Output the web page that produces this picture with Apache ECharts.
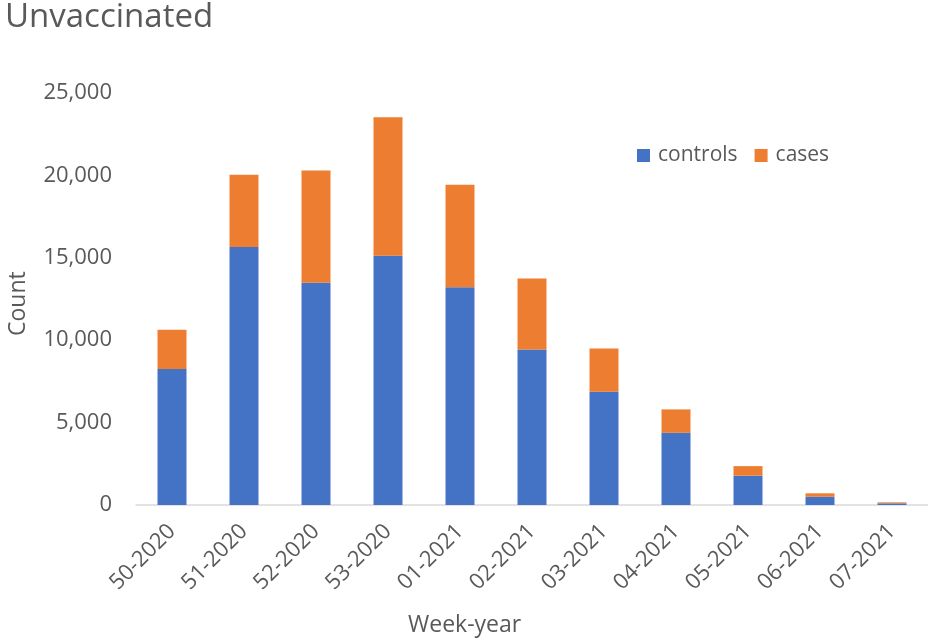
<!DOCTYPE html>
<html>
<head>
<meta charset="utf-8">
<script src="https://cdn.jsdelivr.net/npm/echarts@6/dist/echarts.min.js"></script>
<style>
html,body{margin:0;padding:0;background:#fff;}
#chart{width:928px;height:643px;}
</style>
</head>
<body>
<div id="chart"></div>
<script>
const categories = ['50-2020','51-2020','52-2020','53-2020','01-2021','02-2021','03-2021','04-2021','05-2021','06-2021','07-2021'];
const controls = [8250, 15650, 13480, 15120, 13220, 9430, 6870, 4380, 1780, 500, 100];
const cases = [2390, 4390, 6820, 8410, 6210, 4320, 2620, 1420, 580, 210, 60];
const yTicks = [0, 5000, 10000, 15000, 20000, 25000];

const FONT = '"Open Sans", sans-serif';
const TXT = '#595959';

const chart = echarts.init(document.getElementById('chart'), null, {renderer: 'canvas'});
chart.setOption({
  animation: false,
  backgroundColor: '#ffffff',
  title: {
    text: 'Unvaccinated',
    left: 0, top: -4,
    textStyle: {fontFamily: FONT, fontSize: 33, fontWeight: 'normal', color: TXT}
  },
  legend: {
    data: ['controls', 'cases'],
    left: 632, top: 140,
    itemWidth: 13, itemHeight: 13, itemGap: 17,
    icon: 'rect',
    textStyle: {fontFamily: FONT, fontSize: 21, color: TXT, padding: [0, 0, 0, 3]}
  },
  grid: {left: 136, right: 0, top: 93, bottom: 138, containLabel: false},
  xAxis: {
    type: 'category',
    data: categories,
    axisLine: {show: true, lineStyle: {color: '#D9D9D9', width: 1.5}},
    axisTick: {show: false},
    axisLabel: {rotate: 45, margin: 23, fontFamily: FONT, fontSize: 22, color: TXT, interval: 0}
  },
  yAxis: {
    type: 'value',
    min: yTicks[0], max: yTicks[yTicks.length - 1], interval: 5000,
    splitLine: {show: false},
    axisLine: {show: false},
    axisTick: {show: false},
    axisLabel: {
      margin: 24, fontFamily: FONT, fontSize: 22, color: TXT,
      formatter: v => v.toLocaleString('en-US')
    }
  },
  graphic: [
    {type: 'text', left: 408, top: 614,
     style: {text: 'Week-year', fontFamily: FONT, fontSize: 23, fill: TXT}},
    {type: 'text', x: 7, y: 336, rotation: Math.PI / 2,
     style: {text: 'Count', fontFamily: FONT, fontSize: 23, fill: TXT}}
  ],
  series: [
    {name: 'controls', type: 'bar', stack: 'total', data: controls, barWidth: 29,
     itemStyle: {color: '#4472C4'}},
    {name: 'cases', type: 'bar', stack: 'total', data: cases, barWidth: 29,
     itemStyle: {color: '#ED7D31'}}
  ]
});
</script>
</body>
</html>
